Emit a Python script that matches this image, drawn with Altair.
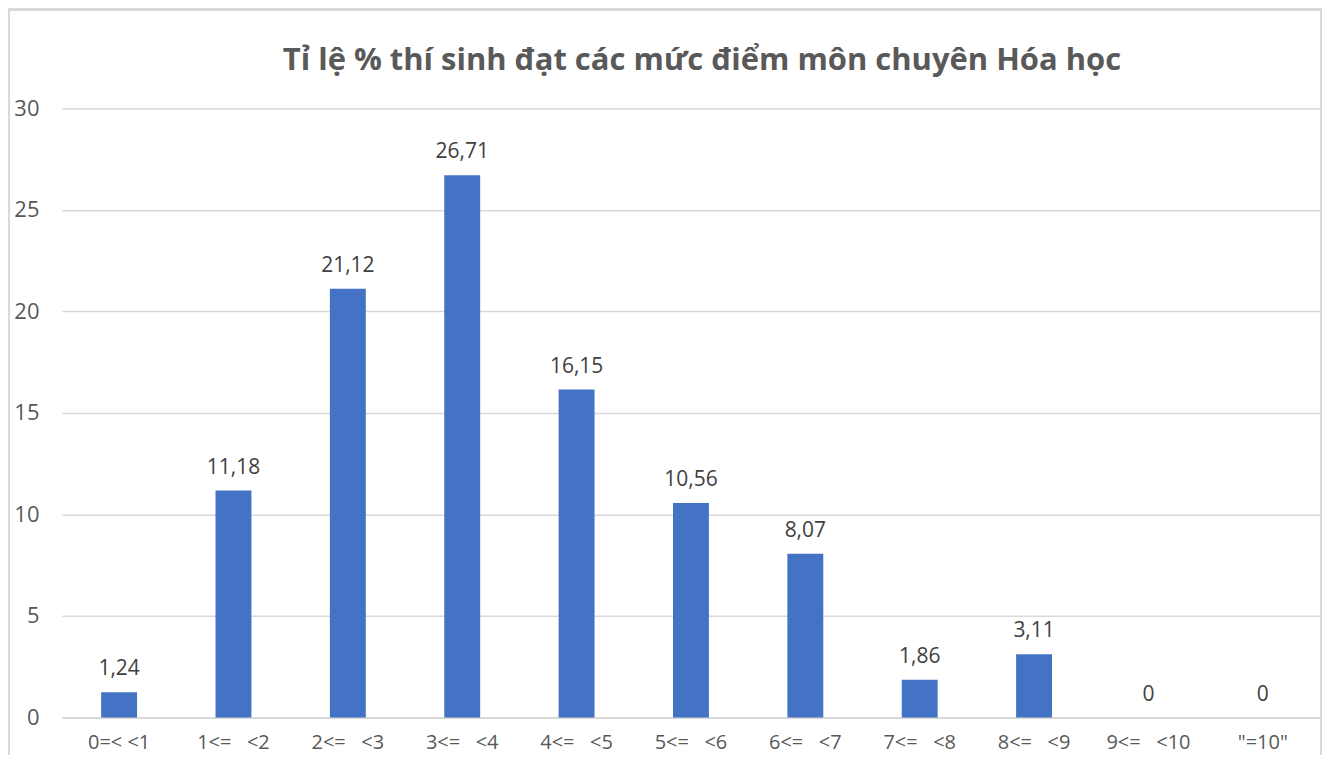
import altair as alt
import pandas as pd

S = "\u00a0\u00a0\u00a0"
categories = ["0=<\u00a0<1", f"1<={S}<2", f"2<={S}<3", f"3<={S}<4", f"4<={S}<5", f"5<={S}<6",
              f"6<={S}<7", f"7<={S}<8", f"8<={S}<9", f"9<={S}<10", "\"=10\""]
values = [1.24, 11.18, 21.12, 26.71, 16.15, 10.56, 8.07, 1.86, 3.11, 0, 0]
labels = [f"{v:g}".replace(".", ",") for v in values]

df = pd.DataFrame({"cat": categories, "val": values, "lab": labels})

FONT = "Open Sans"

x = alt.X("cat:N", sort=categories, title=None,
          scale=alt.Scale(paddingInner=0.686, paddingOuter=0.343),
          axis=alt.Axis(labelAngle=0, labelFontSize=20, labelColor="#595959",
                        labelFont=FONT, ticks=False, domainColor="#d9d9d9",
                        domainWidth=2, labelPadding=15, labelBaseline="top"))
y = alt.Y("val:Q", title=None,
          scale=alt.Scale(domain=[0, 30], nice=False),
          axis=alt.Axis(values=[0, 5, 10, 15, 20, 25, 30], labelFontSize=22,
                        labelColor="#595959", labelFont=FONT, ticks=False,
                        domain=False, gridColor="#d9d9d9", gridWidth=1.5,
                        labelPadding=23))

bars = alt.Chart(df).mark_bar(color="#4472C4").encode(x=x, y=y)
text = alt.Chart(df).mark_text(fontSize=21, font=FONT, color="#404040",
                               baseline="alphabetic", dy=-17).encode(
    x=alt.X("cat:N", sort=categories), y="val:Q", text="lab:N")

frame = alt.Chart(df).mark_rect(fill=None, stroke="#d9d9d9", strokeWidth=2).encode(
    x=alt.value(-53), x2=alt.value(1261), y=alt.value(-99), y2=alt.value(800))

chart = alt.layer(frame, bars, text).properties(
    width=1260, height=610,
    title=alt.TitleParams("Tỉ lệ % thí sinh đạt các mức điểm môn chuyên Hóa học",
                          fontSize=31, font=FONT, fontWeight="bold",
                          color="#595959", anchor="middle", offset=0, dy=69, dx=11),
    autosize=alt.AutoSizeParams(type="none"),
    padding={"left": 54, "top": 100, "right": 2, "bottom": 37},
).configure_view(stroke=None)

chart.save("out.html", embed_options={"renderer": "svg", "actions": False})
